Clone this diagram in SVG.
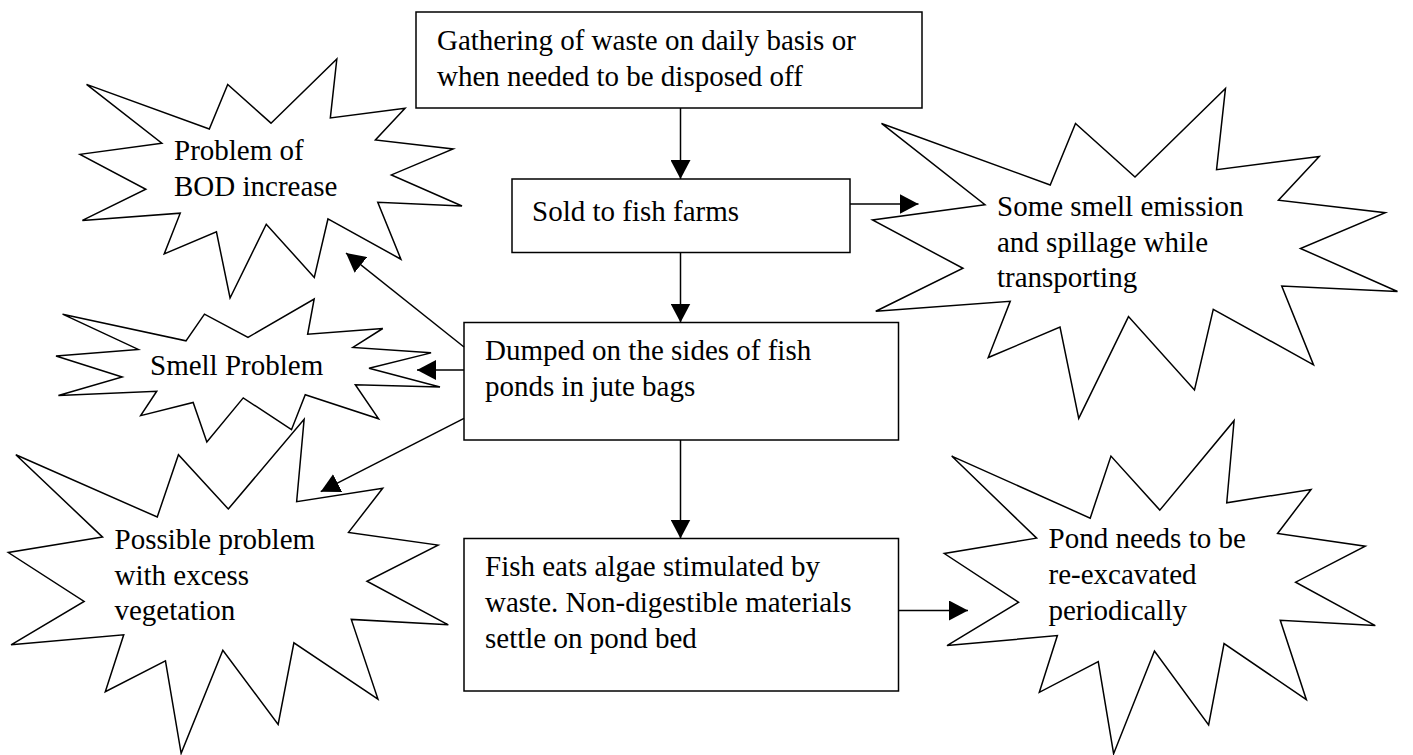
<svg xmlns="http://www.w3.org/2000/svg" width="1413" height="755" viewBox="0 0 1413 755">
  <style>
    .box { fill: #fff; stroke: #000; stroke-width: 1.5; }
    .burst { fill: #fff; stroke: #000; stroke-width: 1.5; vector-effect: non-scaling-stroke; stroke-linejoin: miter; }
    text { font-family: "Liberation Serif", "Times New Roman", serif; font-size: 29px; fill: #000; }
    .conn line { stroke: #000; stroke-width: 1.5; marker-end: url(#arrow); }
  </style>
  <defs>
    <marker id="arrow" markerUnits="userSpaceOnUse" markerWidth="19" markerHeight="20" refX="19" refY="10" orient="auto">
      <path d="M0,0 L19,10 L0,20 Z" fill="#000"/>
    </marker>
    <!-- explosion outline in a 21600 x 21600 unit box -->
    <path id="seal" class="burst" d="M10800,5800 L14522,0 L14155,5325 L18380,4457 L16702,7315 L21097,8137 L17607,10475 L21600,13290 L16837,12942 L18145,18095 L14020,14457 L13247,19737 L10532,14935 L8485,21600 L7715,15627 L4762,17617 L5667,13937 L135,14587 L3722,11775 L0,8615 L4627,7617 L370,2295 L7312,6320 L8352,2295 Z"/>
  </defs>

  <rect x="0" y="0" width="1413" height="755" fill="#fff"/>

  <!-- problem bursts -->
  <g id="burst-bod">
    <use href="#seal" transform="translate(80,59) scale(0.0176852,0.0110648)"/>
    <text x="174" y="160">Problem of</text>
    <text x="174" y="195.7">BOD increase</text>
  </g>
  <g id="burst-transport">
    <use href="#seal" transform="translate(872.5,88.4) scale(0.0243056,0.0152778)"/>
    <text x="997" y="216">Some smell emission</text>
    <text x="997" y="251.7">and spillage while</text>
    <text x="997" y="287">transporting</text>
  </g>
  <g id="burst-smell">
    <use href="#seal" transform="translate(56,299) scale(0.0177778,0.00662037)"/>
    <text x="150" y="375">Smell Problem</text>
  </g>
  <g id="burst-vegetation">
    <use href="#seal" transform="translate(8.3,419.3) scale(0.0203704,0.015463)"/>
    <text x="114.5" y="549">Possible problem</text>
    <text x="114.5" y="584.5">with excess</text>
    <text x="114.5" y="620">vegetation</text>
  </g>
  <g id="burst-pond">
    <use href="#seal" transform="translate(944.3,420.7) scale(0.0199537,0.0154167)"/>
    <text x="1048.5" y="548.3">Pond needs to be</text>
    <text x="1048.5" y="584">re-excavated</text>
    <text x="1048.5" y="620">periodically</text>
  </g>

  <!-- process boxes -->
  <g id="box-gather">
    <rect class="box" x="416" y="12" width="506" height="96"/>
    <text x="437" y="50">Gathering of waste on daily basis or</text>
    <text x="437" y="85.5">when needed to be disposed off</text>
  </g>
  <g id="box-sold">
    <rect class="box" x="512" y="179" width="338" height="73.5"/>
    <text x="532" y="221">Sold to fish farms</text>
  </g>
  <g id="box-dumped">
    <rect class="box" x="464" y="322.5" width="434.5" height="117.5"/>
    <text x="485" y="360">Dumped on the sides of fish</text>
    <text x="485" y="395.7">ponds in jute bags</text>
  </g>
  <g id="box-fish">
    <rect class="box" x="464" y="538.5" width="434.5" height="152.5"/>
    <text x="485" y="576">Fish eats algae stimulated by</text>
    <text x="485" y="612">waste. Non-digestible materials</text>
    <text x="485" y="648">settle on pond bed</text>
  </g>

  <!-- connectors -->
  <g id="connectors" class="conn">
    <line x1="680.5" y1="108" x2="680.5" y2="179"/>
    <line x1="680.5" y1="252.5" x2="680.5" y2="322.5"/>
    <line x1="680.5" y1="440" x2="680.5" y2="538.5"/>
    <line x1="850" y1="204" x2="918.5" y2="204"/>
    <line x1="464" y1="347" x2="346" y2="253"/>
    <line x1="464" y1="370" x2="417" y2="370"/>
    <line x1="464" y1="418.3" x2="320.7" y2="491.7"/>
    <line x1="898.5" y1="610.5" x2="968" y2="610.5"/>
  </g>
</svg>
